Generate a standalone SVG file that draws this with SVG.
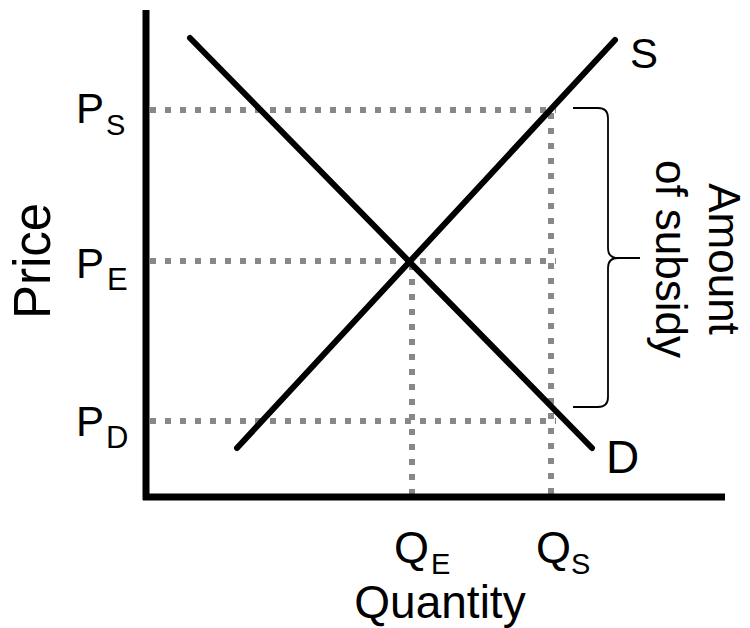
<svg xmlns="http://www.w3.org/2000/svg" width="750" height="628" viewBox="0 0 750 628">
  <style>
    text { font-family: "Liberation Sans", Arial, sans-serif; fill: #000; }
    .axis { stroke: #000; stroke-width: 7; fill: none; }
    .curve { stroke: #000; stroke-width: 6; stroke-linecap: round; fill: none; }
    .dots { stroke: #888; stroke-width: 6; stroke-dasharray: 6 9; fill: none; }
    .brace { stroke: #000; stroke-width: 1.8; fill: none; }
  </style>
  <rect width="750" height="628" fill="#fff"/>

  <g id="guides">
    <line class="dots" x1="150" y1="110" x2="556" y2="110"/>
    <line class="dots" x1="150" y1="261" x2="556" y2="261"/>
    <line class="dots" x1="150" y1="421" x2="556" y2="421"/>
    <line class="dots" x1="412" y1="264" x2="412" y2="494"/>
    <line class="dots" x1="551" y1="113" x2="551" y2="494"/>
  </g>

  <g id="axes">
    <line class="axis" x1="146" y1="10" x2="146" y2="500"/>
    <line class="axis" x1="143" y1="497" x2="725" y2="497"/>
  </g>

  <g id="connectors">
    <line id="demand" class="curve" x1="190" y1="38" x2="592" y2="448"/>
    <line id="supply" class="curve" x1="237" y1="448" x2="615" y2="40"/>
  </g>

  <g id="brace">
    <path class="brace" d="M573,108 L598,108 Q608,108 608,118 L608,248 Q608,258 618,258 L640,258 M618,258 Q608,258 608,268 L608,397 Q608,407 598,407 L573,407"/>
  </g>

  <g id="label-S"><text x="630" y="68" font-size="42">S</text></g>
  <g id="label-D"><text x="606" y="473" font-size="46">D</text></g>

  <g id="label-PS"><text x="76" y="123" font-size="42">P<tspan x="106" y="135" font-size="29">S</tspan></text></g>
  <g id="label-PE"><text x="76" y="278" font-size="42">P<tspan x="107" y="290" font-size="31">E</tspan></text></g>
  <g id="label-PD"><text x="76" y="436" font-size="42">P<tspan x="106" y="448" font-size="31">D</tspan></text></g>

  <g id="label-QE"><text x="394" y="563" font-size="45">Q<tspan x="431" y="574" font-size="29">E</tspan></text></g>
  <g id="label-QS"><text x="536" y="563" font-size="45">Q<tspan x="571" y="574" font-size="29">S</tspan></text></g>

  <g id="label-price"><text transform="translate(50,261) rotate(-90)" text-anchor="middle" font-size="51">Price</text></g>
  <g id="label-quantity"><text x="440" y="618" text-anchor="middle" font-size="46">Quantity</text></g>

  <g id="label-subsidy">
    <text transform="translate(709,259) rotate(90)" text-anchor="middle" font-size="44">Amount</text>
    <text transform="translate(656,259) rotate(90)" text-anchor="middle" font-size="44">of subsidy</text>
  </g>
</svg>
